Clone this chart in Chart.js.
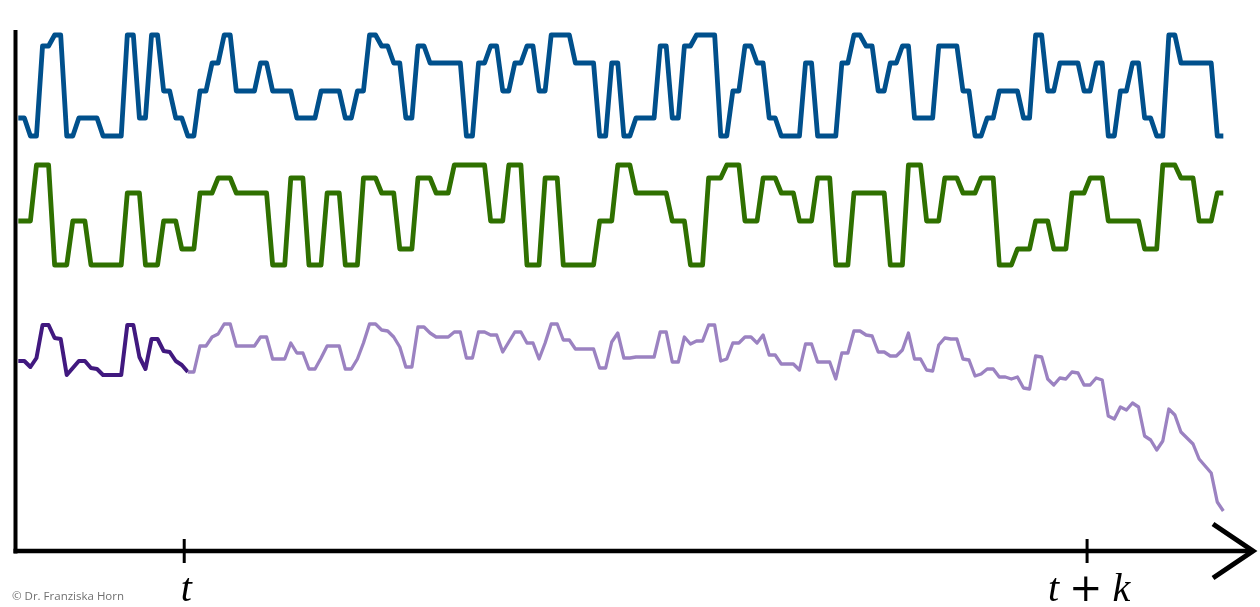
<!DOCTYPE html>
<html>
<head>
<meta charset="utf-8">
<script src="https://cdn.jsdelivr.net/npm/chart.js@4/dist/chart.umd.min.js"></script>
<style>
body { margin: 0; background: #fff; }
</style>
</head>
<body>
<canvas id="chart" width="1260" height="607"></canvas>
<script>
// top signal (levels, height above its lowest level)
const blue = [
  18,18,0,0,90,90,101,101,0,0,18,18,18,18,0,0,0,0,101,101,
  18,18,101,101,45,45,18,18,0,0,45,45,73,73,101,101,45,45,45,45,
  73,73,45,45,45,45,18,18,18,18,45,45,45,45,18,18,45,45,101,101,
  90,90,73,73,18,18,90,90,73,73,73,73,73,73,0,0,73,73,90,90,
  45,45,73,73,90,90,45,45,101,101,101,101,73,73,73,73,0,0,73,73,
  0,0,18,18,18,18,90,90,18,18,90,90,101,101,101,101,0,0,45,45,
  90,90,73,73,18,18,0,0,0,0,73,73,0,0,0,0,73,73,101,101,
  90,90,45,45,73,73,90,90,18,18,18,18,90,90,90,90,45,45,0,0,
  18,18,45,45,45,45,18,18,101,101,45,45,73,73,73,73,45,45,73,73,
  0,0,45,45,73,73,18,18,0,0,101,101,73,73,73,73,73,73,0,0
]

// middle signal
const green = [
  44,44,44,100,100,100,0,0,0,44,44,44,0,0,0,0,0,0,72,72,
  72,0,0,0,44,44,44,16,16,16,72,72,72,87,87,87,72,72,72,72,
  72,72,0,0,0,87,87,87,0,0,0,72,72,72,0,0,0,87,87,87,
  72,72,72,16,16,16,87,87,87,72,72,72,100,100,100,100,100,100,44,44,
  44,100,100,100,0,0,0,87,87,87,0,0,0,0,0,0,44,44,44,100,
  100,100,72,72,72,72,72,72,44,44,44,0,0,0,87,87,87,100,100,100,
  44,44,44,87,87,87,72,72,72,44,44,44,87,87,87,0,0,0,72,72,
  72,72,72,72,0,0,0,100,100,100,44,44,44,87,87,87,72,72,72,87,
  87,87,0,0,0,16,16,16,44,44,44,16,16,16,72,72,72,87,87,87,
  44,44,44,44,44,44,16,16,16,100,100,100,87,87,87,44,44,44,72,72
]

// target signal, known up to t then future
const purple = [
  159,159,153,162,195,195,182,181,145,152,159,159,152,151,145,145,145,145,195,195,
  163,151,181,181,169,168,159,155,148,148,174,174,183,186,196,196,174,174,174,174,
  183,183,161,161,161,177,167,167,151,151,162,174,174,174,151,151,161,177,196,196,
  190,189,183,173,153,153,193,193,187,183,183,183,188,188,162,162,188,188,185,185,
  168,178,188,188,177,177,161,177,196,196,180,180,171,171,171,171,152,152,178,187,
  162,162,163,163,163,163,188,188,158,158,183,176,179,179,195,195,159,161,177,177,
  183,183,177,185,165,165,156,156,156,150,176,176,158,158,158,141,167,167,189,189,
  185,184,168,168,164,164,170,187,161,161,150,149,175,182,181,181,161,160,144,146,
  151,151,143,143,141,143,132,131,164,163,141,135,142,141,148,147,135,135,142,140,
  104,101,113,110,117,113,84,80,70,79,111,105,88,82,76,61,54,47,18,9
]

const nowIndex = 28
const tickValues = [27.4, 176.5]
const tickLabels = ["t", "t + k"]

function toPoints(values, from, to) {
  let pts = []
  for (let i = from; i <= to; i++) pts.push({ x: i, y: values[i] })
  return pts
}

const axesPlugin = {
  id: 'axes',
  afterDraw(chart) {
    const c = chart.ctx
    const area = chart.chartArea
    const xs = chart.scales.x
    const y0 = area.bottom
    c.save()
    c.strokeStyle = '#000'
    c.fillStyle = '#000'
    c.lineCap = 'butt'

    // vertical axis
    c.lineWidth = 4
    c.beginPath()
    c.moveTo(area.left + 0.5, 30)
    c.lineTo(area.left + 0.5, y0 + 2.5)
    c.stroke()

    // horizontal axis with arrow
    c.lineWidth = 4.5
    c.beginPath()
    c.moveTo(area.left - 1.5, y0)
    c.lineTo(area.right - 2, y0)
    c.stroke()
    c.lineWidth = 5
    c.lineJoin = 'miter'
    c.beginPath()
    c.moveTo(area.right - 40, y0 - 27)
    c.lineTo(area.right, y0)
    c.lineTo(area.right - 40, y0 + 27)
    c.stroke()

    // ticks and labels
    c.lineWidth = 3
    tickValues.forEach((v, k) => {
      const px = xs.getPixelForValue(v)
      c.beginPath()
      c.moveTo(px, y0 - 12)
      c.lineTo(px, y0 + 12)
      c.stroke()

      const parts = tickLabels[k].split(" ")
      const fonts = parts.map(p => p == "+" ? '40px "DejaVu Serif"' : 'italic 40px "Liberation Serif"')
      const gap = 10
      let widths = parts.map((p, j) => { c.font = fonts[j]; return c.measureText(p).width })
      let total = widths.reduce((a, b) => a + b, 0) + gap * (parts.length - 1)
      let cx = px - total / 2 + 2
      c.textBaseline = 'alphabetic'
      c.textAlign = 'left'
      parts.forEach((p, j) => {
        c.font = fonts[j]
        c.fillText(p, cx, 601)
        cx += widths[j] + gap
      })
    })

    c.font = '11.5px "Open Sans"'
    c.fillStyle = '#707070'
    c.textAlign = 'left'
    c.fillText("\u00a9 Dr. Franziska Horn", 12, 600)
    c.restore()
  }
}

new Chart(document.getElementById('chart'), {
  type: 'line',
  data: {
    datasets: [
      { label: 'blue', data: toPoints(blue, 0, blue.length - 1), yAxisID: 'yBlue', borderColor: '#00508c', borderWidth: 4.8 },
      { label: 'green', data: toPoints(green, 0, green.length - 1), yAxisID: 'yGreen', borderColor: '#2f7000', borderWidth: 4.8 },
      { label: 'future', data: toPoints(purple, nowIndex, purple.length - 1), yAxisID: 'yPurple', borderColor: '#9b82c1', borderWidth: 3.3 },
      { label: 'past', data: toPoints(purple, 0, nowIndex), yAxisID: 'yPurple', borderColor: '#41197f', borderWidth: 4 }
    ]
  },
  options: {
    responsive: false,
    animation: false,
    devicePixelRatio: 1,
    layout: { padding: { left: 15, right: 7, top: 28, bottom: 56 } },
    elements: {
      point: { radius: 0 },
      line: { tension: 0, borderJoinStyle: 'round', fill: false }
    },
    plugins: { legend: { display: false }, tooltip: { enabled: false } },
    scales: {
      x: { type: 'linear', display: false, min: -0.545, max: 203.9 },
      yBlue: { display: false, min: -415, max: 108 },
      yGreen: { display: false, min: -286, max: 237 },
      yPurple: { display: false, min: -31, max: 492 }
    }
  },
  plugins: [axesPlugin]
})
</script>
</body>
</html>
